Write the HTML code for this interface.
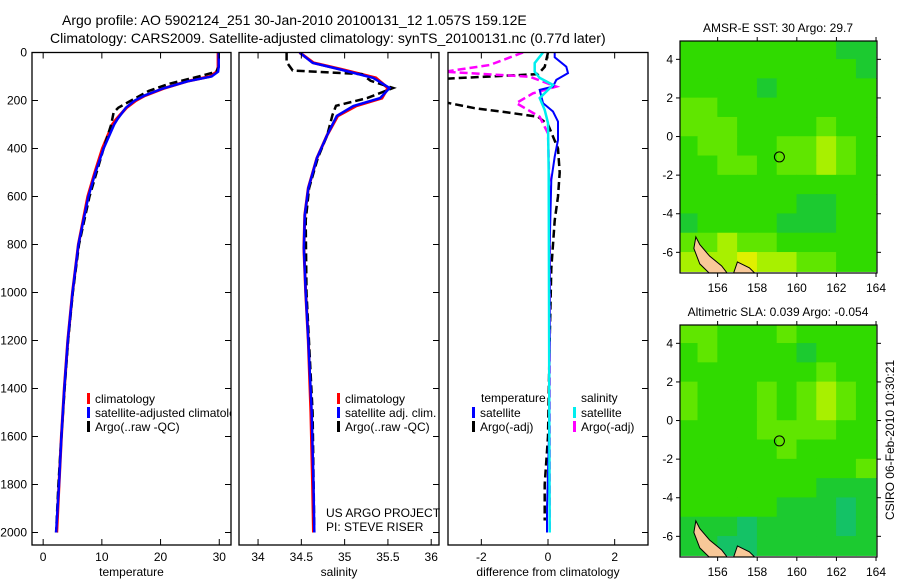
<!DOCTYPE html>
<html><head><meta charset="utf-8"><style>
body{margin:0;background:#fff}
svg{display:block;font-family:"Liberation Sans",sans-serif}
</style></head><body>
<svg id="s" width="900" height="580" viewBox="0 0 900 580" xmlns="http://www.w3.org/2000/svg">
<defs>
<clipPath id="c1"><rect x="32" y="52" width="199" height="493"/></clipPath>
<clipPath id="c2"><rect x="239" y="52" width="200" height="493"/></clipPath>
<clipPath id="c3"><rect x="448" y="52" width="200" height="493"/></clipPath>
<clipPath id="cm1"><rect x="680" y="41" width="197" height="232"/></clipPath>
<clipPath id="cm2"><rect x="680" y="325" width="197" height="232"/></clipPath>
</defs>
<text x="62" y="25" font-size="14">Argo profile: AO 5902124_251 30-Jan-2010 20100131_12 1.057S 159.12E</text>
<text x="50" y="43" font-size="14">Climatology: CARS2009. Satellite-adjusted climatology: synTS_20100131.nc (0.77d later)</text>
<g id="g"></g>
<text transform="translate(894,440) rotate(-90)" text-anchor="middle" font-size="12">CSIRO 06-Feb-2010 10:30:21</text>
</svg>
<script>
// ---- data ----
const depthTicks=[0,200,400,600,800,1000,1200,1400,1600,1800,2000];
const tTicks=[0,10,20,30];
const sTicks=[34,34.5,35,35.5,36];
const dTicks=[-2,0,2];
const tClimDepth=[0,60,80,100,120,150,180,200,230,260,280,300,400,500,600,800,1000,1200,1400,1600,1800,2000];
const tClim=[29.8,29.8,29.6,28.4,24.5,20.5,17.3,15.8,14.2,13.1,12.4,11.8,10.1,8.8,7.6,6.0,5.0,4.2,3.6,3.1,2.7,2.3];
const tSat=[29.9,29.9,29.8,28.7,24.6,20.4,17.2,15.6,14.1,13.2,12.6,12.1,10.3,8.9,7.7,6.0,5.0,4.2,3.6,3.1,2.7,2.2];
const tArgoDepth=[0,60,80,100,130,160,200,230,250,300,400,600,800,1000,1200,1400,1600,1800,2000];
const tArgo=[29.9,29.9,29.5,26.5,21.5,18.0,15.0,12.8,12.0,11.6,10.3,7.9,6.1,5.05,4.25,3.65,3.1,2.6,2.2];
const sDepth=[0,43,71,106,148,190,223,264,343,440,565,677,815,1000,1200,1500,1800,2000];
const sClim=[34.48,34.64,34.97,35.36,35.50,35.43,35.13,34.92,34.80,34.68,34.58,34.54,34.53,34.55,34.58,34.61,34.63,34.64];
const sSat=[34.48,34.63,34.95,35.33,35.52,35.41,35.10,34.91,34.80,34.68,34.58,34.54,34.53,34.55,34.58,34.62,34.64,34.65];
const sArgoDepth=[0,40,75,90,118,148,190,222,260,343,440,565,700,1000,1500,2000];
const sArgo=[34.33,34.33,34.40,35.2,35.3,35.56,35.26,34.90,34.86,34.80,34.69,34.59,34.55,34.56,34.63,34.65];
const dTDepth=[0,20,59,86,114,142,156,211,246,288,364,434,531,800,1200,1600,1900,2000];
const dTSat=[0.2,0.2,0.55,0.6,0.25,0.15,-0.25,-0.15,0.15,0.3,0.3,0.2,0.1,0.05,0.05,0.03,-0.03,-0.03];
const dSDepth=[0,44,80,106,135,163,190,239,294,500,1000,1500,2000];
const dSSat=[-0.15,-0.4,-0.4,-0.25,0.15,-0.05,-0.25,-0.1,0,0.02,0.03,0.04,0.05];
const dTArgoDepth=[0,60,90,110,150,180,210,232,250,268,300,400,500,600,700,900,1200,1600,1800,1950];
const dTArgo=[0,-0.1,-0.3,-3.2,-3.5,-3.5,-3.0,-2.2,-1.2,-0.3,0,0.3,0.35,0.3,0.2,0.1,0.05,0,-0.1,-0.1];
const dSArgoDepth=[0,52,80,101,142,170,211,268,337,600,1000,1500,2000];
const dSArgo=[-0.75,-1.75,-3.1,-0.55,0.25,-0.45,-0.95,-0.25,0,0.05,0.05,0.05,0.05];
const lonTicks=[156,158,160,162,164];
const latTicks=[4,2,0,-2,-4,-6];
const sstGrid=[
[1,1,1,1,1,1,1,1,0,0],[1,1,1,1,1,1,1,1,1,0],[1,1,1,1,0,1,1,1,1,1],[2,2,1,1,1,1,1,1,1,1],
[2,2,2,1,1,1,1,2,1,1],[1,2,2,1,1,2,2,3,2,1],[1,1,2,2,1,2,2,3,2,1],[1,1,1,1,1,1,1,1,1,1],
[1,1,1,1,1,1,0,0,1,1],[0,1,1,1,1,0,0,0,1,1],[2,2,3,2,2,1,1,1,1,1],[3,3,3,4,3,3,2,2,1,1]];
const slaGrid=[
[2,2,1,1,1,2,1,1,1,1],[1,2,1,1,1,1,0,1,1,1],[1,1,1,1,1,1,1,2,1,1],[2,1,1,1,2,1,2,3,2,1],
[2,1,1,1,2,1,2,3,2,1],[1,1,1,1,2,2,2,2,1,1],[1,1,1,1,1,2,1,1,1,1],[1,1,1,1,1,1,1,1,1,2],
[1,1,1,1,1,1,1,0,0,0],[1,1,1,1,1,0,0,0,-1,0],[0,0,0,-1,0,0,0,0,-1,0],[0,0,-1,-1,0,0,0,0,0,0]];
// ---- helpers ----
const NS='http://www.w3.org/2000/svg';const G=document.getElementById('g');
function mk(t,a,p){const e=document.createElementNS(NS,t);for(const k in a)e.setAttribute(k,a[k]);(p||G).appendChild(e);return e;}
const yD=d=>52.5+d*0.24;
const P=[
 {x0:32,x1:231,lo:-1.9,hi:32,clip:'c1'},
 {x0:239,x1:439,lo:33.78,hi:36.09,clip:'c2'},
 {x0:448,x1:648,lo:-3.0,hi:3.0,clip:'c3'}];
function xs(p,v){return p.x0+(v-p.lo)/(p.hi-p.lo)*(p.x1-p.x0);}
function line(p,ds,vs,col,w,dash,name){
 let d='';ds.forEach((dd,i)=>{d+=(i?'L':'M')+xs(p,vs[i]).toFixed(1)+','+yD(dd).toFixed(1);});
 const e=mk('path',{d:d,fill:'none',stroke:col,'stroke-width':w,'clip-path':'url(#'+p.clip+')'});
 if(dash)e.setAttribute('stroke-dasharray',dash);
 
 
}
function frame(p,ticks,xlabel,name,ylab){
 const r=mk('rect',{x:p.x0,y:52.5,width:p.x1-p.x0,height:492.5,fill:'none',stroke:'#000','stroke-width':1.3});
 
 
 ticks.forEach(v=>{const x=xs(p,v);
  mk('line',{x1:x,x2:x,y1:545,y2:539,stroke:'#000'});mk('line',{x1:x,x2:x,y1:52.5,y2:58.5,stroke:'#000'});
  const t=mk('text',{x:x,y:561,'text-anchor':'middle','font-size':12});t.textContent=String(v);
  
  });
 depthTicks.forEach(d=>{const y=yD(d);
  mk('line',{x1:p.x1,x2:p.x1-6,y1:y,y2:y,stroke:'#000'});
  if(ylab){mk('line',{x1:p.x0,x2:p.x0+6,y1:y,y2:y,stroke:'#000'});
   const t=mk('text',{x:27,y:y+4,'text-anchor':'end','font-size':12});t.textContent=String(d);
   
   }});
 const t=mk('text',{x:(p.x0+p.x1)/2,y:576,'text-anchor':'middle','font-size':12});t.textContent=xlabel;
 
 
}
function leg(x,y,col,txt,name,clip){
 mk('rect',{x:x,y:y-9,width:3,height:11,fill:col});
 const t=mk('text',{x:x+8,y:y+1,'font-size':12});t.textContent=txt;
 if(clip)t.setAttribute('clip-path','url(#'+clip+')');
 
 
}
// panel 1
line(P[0],tClimDepth,tClim,'#f00',3,null,'temp-climatology-line');
line(P[0],tArgoDepth,tArgo,'#000',2.5,'8,4','temp-argo-line');
line(P[0],tClimDepth,tSat,'#00f',2.5,null,'temp-satellite-line');
frame(P[0],tTicks,'temperature','temperature-panel',true);
leg(87,402,'#f00','climatology','legend-climatology','c1');
leg(87,416,'#00f','satellite-adjusted climatology','legend-satellite','c1');
leg(87,430,'#000','Argo(..raw -QC)','legend-argo','c1');
// panel 2
line(P[1],sDepth,sClim,'#f00',3,null,'sal-climatology-line');
line(P[1],sArgoDepth,sArgo,'#000',2.5,'8,4','sal-argo-line');
line(P[1],sDepth,sSat,'#00f',2.5,null,'sal-satellite-line');
frame(P[1],sTicks,'salinity','salinity-panel',false);
leg(337,402,'#f00','climatology','legend2-climatology');
leg(337,416,'#00f','satellite adj. clim.','legend2-satellite');
leg(337,430,'#000','Argo(..raw -QC)','legend2-argo');
let t=mk('text',{x:326,y:517,'font-size':12});t.textContent='US ARGO PROJECT';


t=mk('text',{x:326,y:531,'font-size':12});t.textContent='PI: STEVE RISER';


// panel 3
line(P[2],dTArgoDepth,dTArgo,'#000',2.5,'8,4','diff-temp-argo-line');
line(P[2],dSArgoDepth,dSArgo,'#f0f',2.5,'8,4','diff-sal-argo-line');
line(P[2],dTDepth,dTSat,'#00f',2,null,'diff-temp-satellite-line');
line(P[2],dSDepth,dSSat,'#0ee',2.5,null,'diff-sal-satellite-line');
frame(P[2],dTicks,'difference from climatology','difference-panel',false);
t=mk('text',{x:481,y:402,'font-size':12});t.textContent='temperature';


t=mk('text',{x:581,y:402,'font-size':12});t.textContent='salinity';


leg(472,416,'#00f','satellite','legend3-temp-satellite');
leg(472,430,'#000','Argo(-adj)','legend3-temp-argo');
leg(573,416,'#0ee','satellite','legend3-sal-satellite');
leg(573,430,'#f0f','Argo(-adj)','legend3-sal-argo');
// maps
const cmap={'-1':'#14c266','0':'#1cca30','1':'#30da00','2':'#60e600','3':'#a8f000','4':'#e0f000'};
function map(top,grid,title,clip,name){
 const X=lon=>680+(lon-154.1)*19.8, Y=lat=>top+(4.95-lat)*19.3;
 grid.forEach((row,i)=>row.forEach((v,j)=>{
  const r=mk('rect',{x:X(154+j)-0.3,y:Y(5-i)-0.3,width:20.4,height:19.9,fill:cmap[String(v)],'clip-path':'url(#'+clip+')'});
  
  }));
 const isl=mk('path',{d:`M${X(154.9)},${Y(-5.2)} L${X(155.1)},${Y(-5.6)} L${X(155.6)},${Y(-6.2)} L${X(156.2)},${Y(-6.7)} L${X(156.5)},${Y(-7.1)} L${X(155.6)},${Y(-7.1)} L${X(155.1)},${Y(-6.6)} L${X(154.8)},${Y(-5.8)} Z M${X(157.0)},${Y(-6.5)} L${X(157.6)},${Y(-6.8)} L${X(157.9)},${Y(-7.1)} L${X(156.8)},${Y(-7.1)} Z`,fill:'#f8c898',stroke:'#000','stroke-width':1,'clip-path':'url(#'+clip+')'});
 
 
 const c=mk('circle',{cx:X(159.12),cy:Y(-1.057),r:5,fill:'none',stroke:'#000','stroke-width':1});
 
 
 const f=mk('rect',{x:680,y:top,width:197,height:232,fill:'none',stroke:'#000','stroke-width':1.2});
 
 
 lonTicks.forEach(l=>{const x=X(l);mk('line',{x1:x,x2:x,y1:top,y2:top-4,stroke:'#000'});mk('line',{x1:x,x2:x,y1:top+232,y2:top+236,stroke:'#000'});
  const tt=mk('text',{x:x,y:top+251,'text-anchor':'middle','font-size':12});tt.textContent=String(l);
  
  });
 latTicks.forEach(l=>{const y=Y(l);mk('line',{x1:680,x2:676,y1:y,y2:y,stroke:'#000'});mk('line',{x1:877,x2:881,y1:y,y2:y,stroke:'#000'});
  const tt=mk('text',{x:673,y:y+4,'text-anchor':'end','font-size':12});tt.textContent=String(l);
  
  });
 const tt=mk('text',{x:778,y:top-9,'text-anchor':'middle','font-size':12});tt.textContent=title;
 
 
}
map(41,sstGrid,'AMSR-E SST: 30 Argo: 29.7','cm1','sst-map');
map(325,slaGrid,'Altimetric SLA: 0.039 Argo: -0.054','cm2','sla-map');
</script>
</body></html>
